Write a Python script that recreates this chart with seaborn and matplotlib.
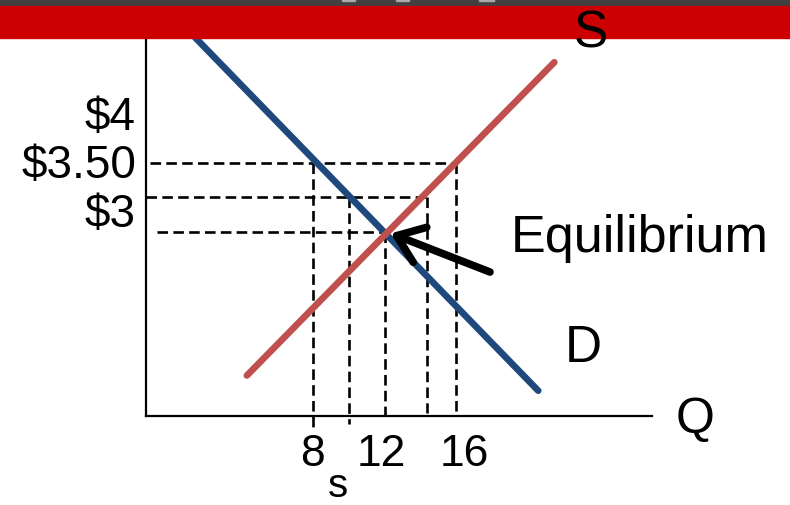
import matplotlib
matplotlib.use("Agg")
import matplotlib.pyplot as plt
import matplotlib.patches as mpatches
import pandas as pd
import seaborn as sns

# Supply and demand curves (quantity, price)
demand_q = [1.4, 20.6]
demand_p = [4.41, 1.85]
supply_q = [4.3, 21.5]
supply_p = [1.96, 4.23]

# Dashed guide lines: price level, demand-side qty, supply-side qty
guide_price = [3.50, 3.25, 3.00]
guide_q_demand = [8, 10, 12]
guide_q_supply = [16, 14.4, 12]

price_labels = ["$4", "$3.50", "$3"]
qty_labels = ["8", "12", "16"]

sns.set_theme(style="white")
plt.rcParams["font.family"] = ["Liberation Sans", "DejaVu Sans"]

W, H = 790, 506
fig = plt.figure(figsize=(W / 100, H / 100), dpi=100)
fig.patch.set_facecolor("white")


def fx(x):
    return x / W


def fy(y):
    return 1 - y / H


ax = fig.add_axes([fx(146), fy(417), (652 - 146) / W, (417 - 38) / H])
ax.set_facecolor("white")
ax.set_xlim(-1.343, 26.965)
ax.set_ylim(1.6667, 4.413)
ax.set_xticks([])
ax.set_yticks([])
for side in ["top", "right"]:
    ax.spines[side].set_visible(False)
for side in ["left", "bottom"]:
    ax.spines[side].set_color("black")
    ax.spines[side].set_linewidth(1.6)

lines = pd.DataFrame({
    "Q": demand_q + supply_q,
    "P": demand_p + supply_p,
    "curve": ["D", "D", "S", "S"],
})
sns.lineplot(data=lines, x="Q", y="P", hue="curve", palette={"D": "#1F497D", "S": "#C0504D"},
             linewidth=4.8, legend=False, ax=ax, sort=False, zorder=3)

# dashed guides
h_start = [-1.1, -1.35, -0.7]
v_end = {8: 1.58, 10: 1.61, 12: 1.667, 14.4: 1.69, 16: 1.667}
dash = dict(color="black", lw=1.9, dashes=(4, 2), clip_on=False, zorder=2)
for p, qd, qs, x0 in zip(guide_price, guide_q_demand, guide_q_supply, h_start):
    ax.plot([x0, max(qd, qs)], [p, p], **dash)
    for q in sorted({qd, qs}):
        ax.plot([q, q], [p, v_end[q]], **dash)

# arrow to equilibrium
ax.annotate("", xy=(12.35, 2.99), xytext=(17.9, 2.71),
            arrowprops=dict(arrowstyle="->,head_length=0.6,head_width=0.45",
                            lw=5.5, color="black", mutation_scale=30, shrinkA=0, shrinkB=0),
            zorder=4)

# header bars
fig.add_artist(mpatches.Rectangle((0, fy(7)), 1, 7 / H, transform=fig.transFigure,
                                  color="#404040", zorder=10))
for x0, x1 in [(342, 355), (396, 409), (479, 494)]:
    fig.add_artist(mpatches.Rectangle((fx(x0), fy(1.5)), (x1 - x0) / W, 1.5 / H,
                                      transform=fig.transFigure, color="#A8A8A8", zorder=11))
fig.add_artist(mpatches.Rectangle((0, fy(39)), 1, 32 / H, transform=fig.transFigure,
                                  color="#CC0000", zorder=10))

# price labels
for lab, y in zip(price_labels, [130, 178, 227]):
    fig.text(fx(136), fy(y), lab, ha="right", va="baseline", fontsize=33, color="black")

# quantity labels
for lab, x in zip(qty_labels, [312, 381, 464]):
    fig.text(fx(x), fy(466), lab, ha="center", va="baseline", fontsize=32, color="black")
fig.text(fx(338), fy(497), "s", ha="center", va="baseline", fontsize=29, color="black")

fig.text(fx(591), fy(47), "S", ha="center", va="baseline", fontsize=37, color="black", zorder=12)
fig.text(fx(565), fy(362), "D", ha="left", va="baseline", fontsize=37, color="black")
fig.text(fx(676), fy(433), "Q", ha="left", va="baseline", fontsize=36, color="black")
fig.text(fx(511), fy(252), "Equilibrium", ha="left", va="baseline", fontsize=37.5, color="black")

fig.savefig("out.png", dpi=100)
